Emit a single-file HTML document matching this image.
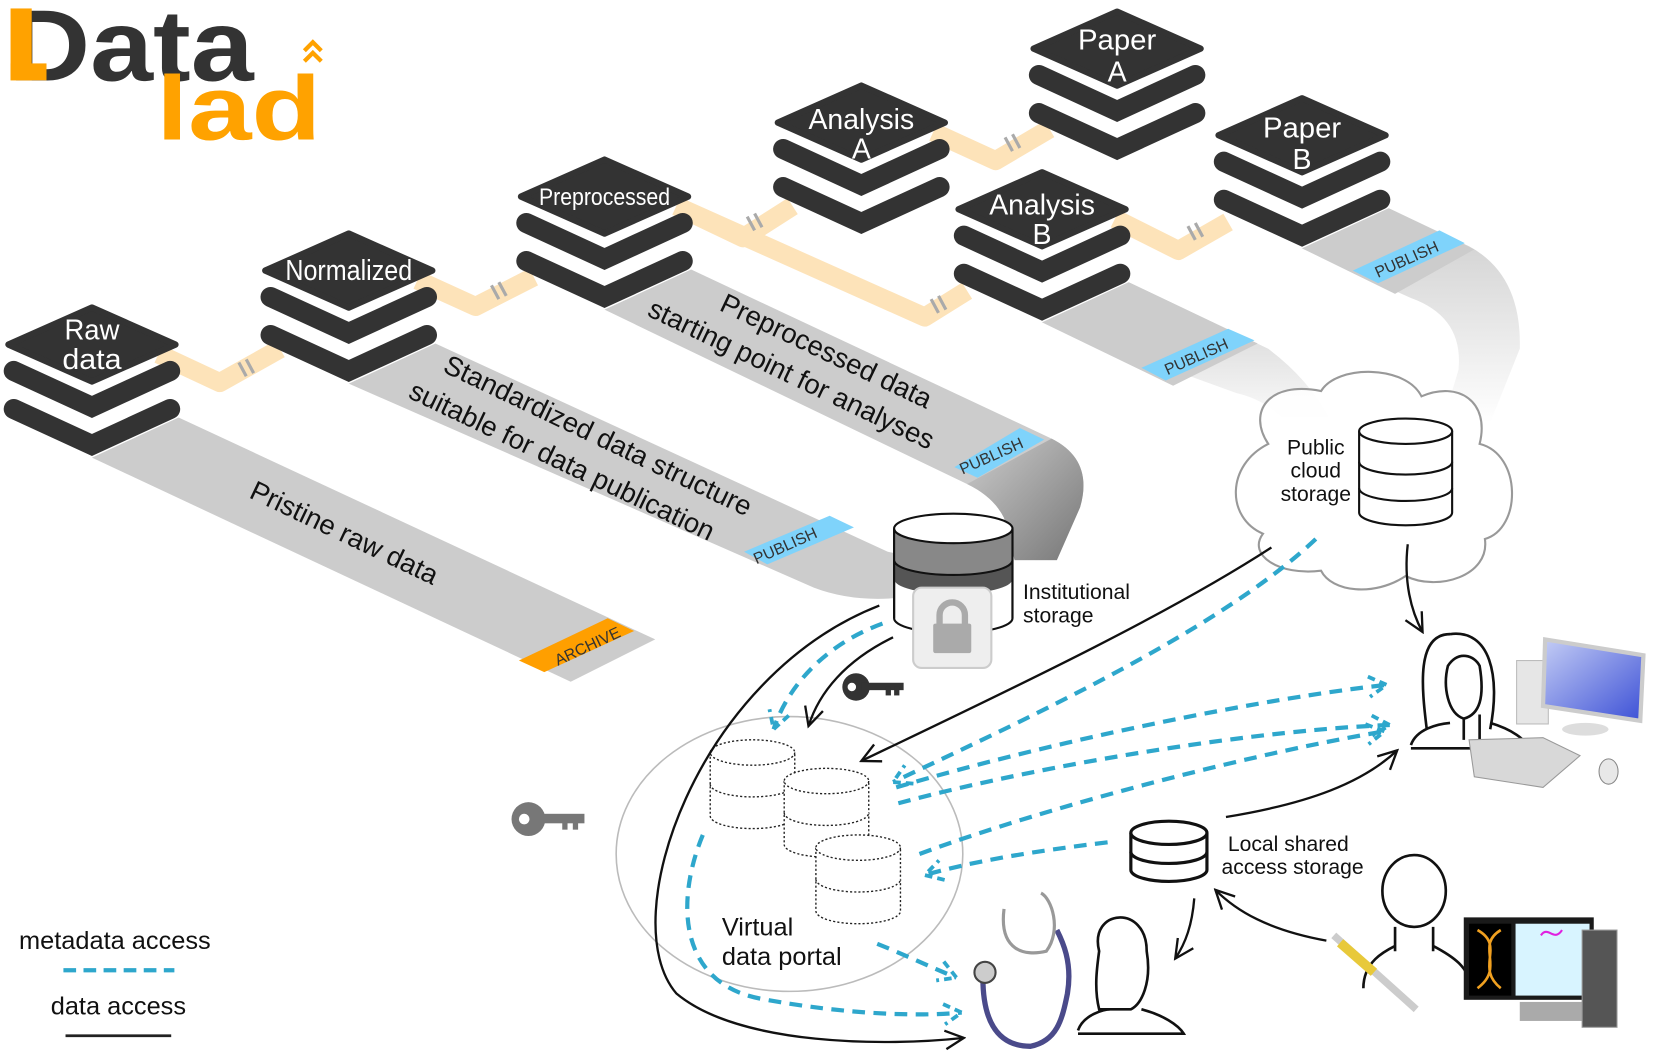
<!DOCTYPE html>
<html><head><meta charset="utf-8"><style>html,body{margin:0;padding:0;background:#fff;overflow:hidden}svg{display:block}text{font-family:"Liberation Sans",sans-serif}</style></head><body>
<svg width="1654" height="1059" viewBox="0 0 1565 1002" preserveAspectRatio="none" xmlns="http://www.w3.org/2000/svg">
<defs>
<g id="stk">
<polygon points="-79,0 0,-35 79,0 0,35" fill="#333" stroke="#333" stroke-width="6" stroke-linejoin="round"/>
<polyline points="-74,25 0,59 74,25" fill="none" stroke="#333" stroke-width="19" stroke-linecap="round" stroke-linejoin="miter"/>
<polyline points="-74,61 0,95 74,61" fill="none" stroke="#333" stroke-width="19" stroke-linecap="round" stroke-linejoin="miter"/>
</g>
<linearGradient id="gCurve" x1="0" y1="0" x2="1" y2="1"><stop offset="0" stop-color="#ccc"/><stop offset="1" stop-color="#777"/></linearGradient>
<linearGradient id="gFade" x1="0" y1="0" x2="0" y2="1"><stop offset="0" stop-color="#ccc"/><stop offset="1" stop-color="#fff"/></linearGradient>
<linearGradient id="gScreen" x1="0" y1="0" x2="1" y2="1"><stop offset="0" stop-color="#c4cdf5"/><stop offset="1" stop-color="#3c50d6"/></linearGradient>
<marker id="ah" viewBox="0 0 20 20" refX="18" refY="10" markerWidth="22" markerHeight="22" markerUnits="userSpaceOnUse" orient="auto"><path d="M2,2 L18,10 L2,18" fill="none" stroke="#111" stroke-width="2"/></marker>
<marker id="bh" viewBox="0 0 20 20" refX="18" refY="10" markerWidth="24" markerHeight="24" markerUnits="userSpaceOnUse" orient="auto"><path d="M4,2 L18,10 L4,18" fill="none" stroke="#2ea7cc" stroke-width="3" stroke-dasharray="6,4"/></marker>
<g id="dcyl" fill="#fff" stroke="#222" stroke-width="1.3" stroke-dasharray="2,2">
<path d="M0,12 L0,72 A40,12 0 0 0 80,72 L80,12"/><ellipse cx="40" cy="12" rx="40" ry="12"/><path d="M0,42 A40,12 0 0 0 80,42"/>
</g>
</defs>

<!-- logo -->
<text x="8" y="76" font-size="96" font-weight="bold" fill="#333" textLength="232" lengthAdjust="spacingAndGlyphs">Data</text>
<rect x="10" y="8" width="20" height="68" fill="#ffa200"/>
<rect x="10" y="60" width="34" height="16" fill="#ffa200"/>
<text x="148" y="132" font-size="86" font-weight="bold" fill="#ffa200" textLength="156" lengthAdjust="spacingAndGlyphs">lad</text>
<path d="M288,48 L296,40 L304,48 M288,58 L296,50 L304,58" fill="none" stroke="#ffa200" stroke-width="4"/>

<!-- gray bands -->
<polygon points="169,395 620,605 540,645 87,433" fill="#ccc"/>
<polygon points="491,625 575,585 600,597 515,636" fill="#ff9f00"/>
<text transform="translate(558,616) rotate(-25)" font-size="15" fill="#333" text-anchor="middle">ARCHIVE</text>

<path d="M412,325 L840,522 Q870,530 880,510 L885,560 Q820,575 770,556 L330,363 Z" fill="#ccc"/>
<polygon points="704,522 785,488 808,499 726,534" fill="#7fd3fb"/>
<text transform="translate(745,521) rotate(-24)" font-size="15" fill="#333" text-anchor="middle">PUBLISH</text>

<path d="M654,255 L995,415 Q1035,435 1022,480 L1000,530 L960,530 L950,490 Q940,470 915,458 L572,293 Z" fill="#ccc"/>
<path d="M995,415 Q1035,435 1022,480 L1000,530 L960,530 L950,490 Q940,470 915,458 Z" fill="url(#gCurve)"/>
<polygon points="903,442 965,405 988,416 925,452" fill="#7fd3fb"/>
<text transform="translate(940,436) rotate(-24)" font-size="15" fill="#333" text-anchor="middle">PUBLISH</text>

<path d="M1068,267 L1200,330 Q1240,360 1260,400 L1225,410 Q1205,380 1170,372 L986,305 Z" fill="url(#gFade)"/>
<path d="M1068,267 L1190,325 L1110,365 L986,305 Z" fill="#ccc"/>
<polygon points="1080,348 1162,311 1187,322 1103,360" fill="#7fd3fb"/>
<text transform="translate(1134,342) rotate(-24)" font-size="15" fill="#333" text-anchor="middle">PUBLISH</text>

<path d="M1314,197 L1390,233 Q1440,260 1438,330 L1410,400 L1365,400 L1380,350 Q1385,300 1335,282 L1232,235 Z" fill="url(#gFade)"/>
<path d="M1314,197 L1395,236 L1320,278 L1232,235 Z" fill="#ccc"/>
<polygon points="1280,256 1362,218 1386,230 1304,268" fill="#7fd3fb"/>
<text transform="translate(1333,250) rotate(-24)" font-size="15" fill="#333" text-anchor="middle">PUBLISH</text>

<!-- band texts -->
<text transform="translate(322,512) rotate(25.5)" font-size="26" fill="#111" text-anchor="middle">Pristine raw data</text>
<text transform="translate(562,420) rotate(25.5)" font-size="26" fill="#111" text-anchor="middle">Standardized data structure</text>
<text transform="translate(528,444) rotate(25.5)" font-size="26" fill="#111" text-anchor="middle">suitable for data publication</text>
<text transform="translate(778,340) rotate(25.5)" font-size="26" fill="#111" text-anchor="middle">Preprocessed data</text>
<text transform="translate(745,362) rotate(25.5)" font-size="26" fill="#111" text-anchor="middle">starting point for analyses</text>

<!-- orange connectors -->
<g fill="none" stroke="#fde3b9" stroke-width="18" stroke-linejoin="round">
<polyline points="150,335 208,362 265,330"/>
<polyline points="395,265 450,290 505,262"/>
<polyline points="640,195 703,225 750,195"/>
<polyline points="640,195 875,300 915,275"/>
<polyline points="883,125 942,152 993,122"/>
<polyline points="1055,207 1115,237 1162,210"/>
</g>
<g fill="none" stroke="#aaa" stroke-width="3">
<path d="M226,343 L233,356 M233,340 L240,353"/><path d="M465,270 L472,283 M472,267 L479,280"/>
<path d="M707,205 L714,218 M714,202 L721,215"/><path d="M881,283 L888,296 M888,280 L895,293"/>
<path d="M951,130 L958,143 M958,127 L965,140"/><path d="M1124,214 L1131,227 M1131,211 L1138,224"/>
</g>

<!-- node stacks -->
<use href="#stk" x="87" y="326"/><use href="#stk" x="330" y="256"/><use href="#stk" x="572" y="186"/>
<use href="#stk" x="815" y="116"/><use href="#stk" x="1057" y="46"/><use href="#stk" x="986" y="198"/><use href="#stk" x="1232" y="128"/>
<g fill="#fff" font-size="27" text-anchor="middle">
<text x="87" y="321" textLength="52" lengthAdjust="spacingAndGlyphs">Raw</text><text x="87" y="349" textLength="56" lengthAdjust="spacingAndGlyphs">data</text>
<text x="330" y="265" textLength="120" lengthAdjust="spacingAndGlyphs">Normalized</text>
<text x="572" y="194" font-size="23" textLength="124" lengthAdjust="spacingAndGlyphs">Preprocessed</text>
<text x="815" y="122" textLength="100" lengthAdjust="spacingAndGlyphs">Analysis</text><text x="815" y="150">A</text>
<text x="1057" y="47" textLength="74" lengthAdjust="spacingAndGlyphs">Paper</text><text x="1057" y="77">A</text>
<text x="1232" y="130" textLength="74" lengthAdjust="spacingAndGlyphs">Paper</text><text x="1232" y="160">B</text>
<text x="986" y="203" textLength="100" lengthAdjust="spacingAndGlyphs">Analysis</text><text x="986" y="231">B</text>
</g>

<!-- institutional storage -->
<path d="M846,500 L846,585 A56,14 0 0 0 958,585 L958,500" fill="#fff" stroke="#111" stroke-width="2"/>
<path d="M846,500 L846,548 A56,14 0 0 0 958,548 L958,500 Z" fill="#555"/>
<path d="M846,500 L846,530 A56,14 0 0 0 958,530 L958,500 Z" fill="#888"/>
<path d="M846,500 L846,585 M958,500 L958,585 M846,530 A56,14 0 0 0 958,530" fill="none" stroke="#111" stroke-width="2"/>
<ellipse cx="902" cy="500" rx="56" ry="14" fill="#fff" stroke="#111" stroke-width="2"/>
<rect x="864" y="556" width="74" height="76" rx="8" fill="#eee" stroke="#ccc" stroke-width="2"/>
<path d="M889,592 L889,582 A12,12 0 0 1 913,582 L913,592" fill="none" stroke="#aaa" stroke-width="6"/>
<rect x="883" y="590" width="36" height="28" rx="2" fill="#aaa"/>
<text x="968" y="567" font-size="20" fill="#111">Institutional</text>
<text x="968" y="589" font-size="20" fill="#111">storage</text>

<!-- cloud -->
<path d="M1200,420 C1180,390 1200,360 1250,370 C1265,345 1330,345 1345,375 C1380,360 1410,380 1400,420 C1440,430 1440,500 1405,510 C1410,545 1360,560 1330,545 C1300,565 1260,560 1250,540 C1210,545 1180,525 1195,505 C1160,490 1160,440 1200,420 Z" fill="rgba(255,255,255,0.85)" stroke="#999" stroke-width="2"/>
<path d="M1286,408 L1286,485 A44,12 0 0 0 1374,485 L1374,408" fill="#fff" stroke="#111" stroke-width="2"/>
<ellipse cx="1330" cy="408" rx="44" ry="12" fill="#fff" stroke="#111" stroke-width="2"/>
<path d="M1286,437 A44,12 0 0 0 1374,437 M1286,462 A44,12 0 0 0 1374,462" fill="none" stroke="#111" stroke-width="2"/>
<g font-size="20" fill="#111" text-anchor="middle"><text x="1245" y="430">Public</text><text x="1245" y="452">cloud</text><text x="1245" y="474">storage</text></g>

<!-- virtual portal -->
<ellipse cx="747" cy="808" rx="164" ry="130" fill="none" stroke="#bbb" stroke-width="1.5"/>
<use href="#dcyl" x="672" y="700"/><use href="#dcyl" x="742" y="727"/><use href="#dcyl" x="772" y="790"/>
<text x="683" y="885" font-size="24" fill="#111">Virtual</text>
<text x="683" y="913" font-size="24" fill="#111">data portal</text>

<!-- local storage -->
<path d="M1070,788 L1070,823 A36,11 0 0 0 1142,823 L1142,788" fill="#fff" stroke="#111" stroke-width="3"/>
<ellipse cx="1106" cy="788" rx="36" ry="11" fill="#fff" stroke="#111" stroke-width="3"/>
<path d="M1070,806 A36,11 0 0 0 1142,806" fill="none" stroke="#111" stroke-width="3"/>
<text x="1219" y="805" font-size="20" fill="#111" text-anchor="middle">Local shared</text>
<text x="1223" y="827" font-size="20" fill="#111" text-anchor="middle">access storage</text>

<!-- keys -->
<g fill="#333"><circle cx="810" cy="650" r="13"/><rect x="815" y="646" width="40" height="7"/><rect x="838" y="650" width="5" height="8"/><rect x="846" y="650" width="5" height="8"/></g>
<circle cx="806" cy="650" r="4" fill="#fff"/>
<g fill="#777"><circle cx="500" cy="775" r="16"/><rect x="505" y="770" width="48" height="9"/><rect x="532" y="776" width="5" height="9"/><rect x="542" y="776" width="5" height="9"/></g>
<circle cx="496" cy="775" r="5" fill="#fff"/>

<!-- solid arrows -->
<g fill="none" stroke="#111" stroke-width="2.2" marker-end="url(#ah)">
<path d="M832,573 C660,640 580,870 640,940 C700,990 840,990 912,982"/>
<path d="M845,603 C800,625 775,655 765,687"/>
<path d="M1203,518 C1100,585 940,660 815,720"/>
<path d="M1332,515 C1328,550 1335,578 1346,598"/>
<path d="M1160,773 C1240,760 1290,740 1322,710"/>
<path d="M1130,850 C1128,875 1122,892 1112,907"/>
<path d="M1255,890 C1200,880 1170,862 1150,842"/>
</g>

<!-- dashed arrows -->
<g fill="none" stroke="#2ea7cc" stroke-width="4" stroke-dasharray="12,8" marker-end="url(#bh)">
<path d="M835,590 C780,610 745,650 732,690"/>
<path d="M1245,510 C1150,600 950,690 845,740"/>
<path d="M848,745 C1000,700 1200,660 1312,648"/>
<path d="M850,760 C1000,720 1200,690 1315,686"/>
<path d="M870,808 C1000,760 1200,710 1310,692"/>
<path d="M1048,797 C980,805 920,815 875,828"/>
<path d="M830,893 C860,905 880,915 905,925"/>
<path d="M665,790 C640,850 640,930 720,945 C800,960 870,962 910,958"/>
</g>

<!-- woman at computer -->
<g fill="none" stroke="#111" stroke-width="2.5">
<path d="M1372,600 C1340,600 1345,650 1350,690 M1372,600 C1410,595 1420,640 1410,690"/>
<path d="M1370,630 C1365,650 1370,675 1385,680 C1400,676 1405,660 1400,630 C1395,620 1380,615 1370,630 Z"/>
<path d="M1385,680 L1385,700 M1400,676 L1400,700 M1335,705 C1340,690 1360,685 1372,684 M1410,684 C1430,690 1445,700 1445,708 L1335,708"/>
</g>
<rect x="1435" y="625" width="30" height="60" fill="#e6e6e6" stroke="#bbb"/>
<polygon points="1462,605 1555,620 1552,682 1460,668" fill="url(#gScreen)" stroke="#ccc" stroke-width="4"/>
<ellipse cx="1500" cy="690" rx="22" ry="6" fill="#ddd"/>
<polygon points="1390,700 1460,698 1495,715 1460,745 1395,735" fill="#d8d8d8" stroke="#999"/>
<ellipse cx="1522" cy="730" rx="9" ry="12" fill="#e8e8e8" stroke="#888"/>

<!-- doctor -->
<g fill="none" stroke="#111" stroke-width="2.5">
<path d="M1040,900 C1030,860 1085,855 1085,900 C1090,930 1080,950 1070,955 L1040,955 C1035,935 1038,915 1040,900 Z"/>
<path d="M1020,975 C1025,960 1045,955 1050,955 M1080,955 C1100,960 1115,970 1120,978 L1020,978"/>
</g>
<g fill="none" stroke="#4a4a8a" stroke-width="5"><path d="M930,925 C930,960 940,990 975,990 C1000,985 1005,965 1010,940 C1015,910 1005,890 1000,880"/></g>
<g fill="none" stroke="#999" stroke-width="3"><path d="M950,860 C945,900 970,905 990,900 C1005,880 995,850 985,845"/></g>
<circle cx="932" cy="920" r="10" fill="#ccc" stroke="#444" stroke-width="2"/>

<!-- scientist -->
<g fill="none" stroke="#111" stroke-width="2.5">
<ellipse cx="1338" cy="843" rx="30" ry="34"/>
<path d="M1320,877 L1320,900 M1356,877 L1356,900 M1290,935 C1290,910 1310,900 1320,895 M1356,895 C1375,905 1390,915 1392,935"/>
</g>
<line x1="1262" y1="885" x2="1340" y2="955" stroke="#ccc" stroke-width="7"/>
<line x1="1268" y1="892" x2="1300" y2="920" stroke="#e8c93a" stroke-width="9"/>
<rect x="1385" y="868" width="123" height="78" fill="#1a1a1a"/>
<rect x="1390" y="874" width="40" height="68" fill="#000"/>
<path d="M1398,880 C1425,895 1395,915 1420,935 M1420,880 C1395,895 1425,915 1398,935" fill="none" stroke="#f0a020" stroke-width="2.5"/>
<rect x="1434" y="874" width="70" height="68" fill="#d8f4ff"/>
<path d="M1458,885 C1465,875 1470,892 1478,880" fill="none" stroke="#e020e0" stroke-width="2"/>
<rect x="1438" y="948" width="60" height="18" fill="#aaa"/>
<rect x="1497" y="880" width="33" height="92" fill="#555" stroke="#999"/>
<g fill="#111" font-size="24"><text x="18" y="898">metadata access</text><text x="48" y="960">data access</text></g>
<line x1="60" y1="918" x2="165" y2="918" stroke="#2ea7cc" stroke-width="4" stroke-dasharray="12,7"/>
<line x1="62" y1="980" x2="162" y2="980" stroke="#222" stroke-width="2.5"/>
</svg>
</body></html>
